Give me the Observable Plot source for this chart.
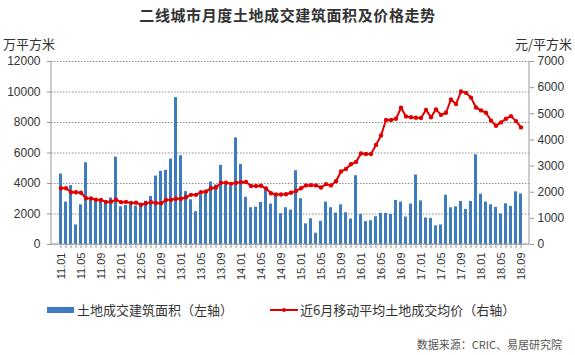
<!DOCTYPE html>
<html><head><meta charset="utf-8">
<script src="https://cdn.jsdelivr.net/npm/d3@7"></script>
<script src="https://cdn.jsdelivr.net/npm/@observablehq/plot@0.6"></script>
<style>
body{margin:0;background:#fff;}
#wrap{position:relative;width:575px;height:355px;background:#fff;font-family:"Noto Sans CJK SC","Noto Sans",sans-serif;color:#333;overflow:hidden;}
#chart{position:absolute;left:0;top:0;}
.abs{position:absolute;white-space:nowrap;line-height:1;}
#title{left:0;width:575px;top:7px;text-align:center;font-size:15px;font-weight:bold;letter-spacing:0.6px;color:#333;}
#ul{left:3px;top:37px;font-size:13px;}
#ur{right:3px;top:37px;font-size:13px;}
.leg{top:303px;font-size:13px;display:flex;align-items:center;}
#cap{right:13px;top:339px;font-size:11px;color:#555;}
</style></head>
<body>
<div id="wrap">
<div id="chart"></div>
<div id="title" class="abs">二线城市月度土地成交建筑面积及价格走势</div>
<div id="ul" class="abs">万平方米</div>
<div id="ur" class="abs">元/平方米</div>
<div class="abs leg" style="left:47px;"><span style="display:inline-block;width:27px;height:6px;background:#3D7DBF;margin-right:3px;"></span>土地成交建筑面积（左轴）</div>
<div class="abs leg" style="left:270px;"><svg width="28" height="10" style="margin-right:2px"><line x1="0" y1="5" x2="28" y2="5" stroke="#E00000" stroke-width="2"/><circle cx="14" cy="5" r="2" fill="#E00000"/></svg>近6月移动平均土地成交均价（右轴）</div>
<div id="cap" class="abs">数据来源：CRIC、易居研究院</div>
</div>
<script>
const months = [
"11.01","11.02","11.03","11.04","11.05","11.06","11.07","11.08","11.09","11.10","11.11","11.12",
"12.01","12.02","12.03","12.04","12.05","12.06","12.07","12.08","12.09","12.10","12.11","12.12",
"13.01","13.02","13.03","13.04","13.05","13.06","13.07","13.08","13.09","13.10","13.11","13.12",
"14.01","14.02","14.03","14.04","14.05","14.06","14.07","14.08","14.09","14.10","14.11","14.12",
"15.01","15.02","15.03","15.04","15.05","15.06","15.07","15.08","15.09","15.10","15.11","15.12",
"16.01","16.02","16.03","16.04","16.05","16.06","16.07","16.08","16.09","16.10","16.11","16.12",
"17.01","17.02","17.03","17.04","17.05","17.06","17.07","17.08","17.09","17.10","17.11","17.12",
"18.01","18.02","18.03","18.04","18.05","18.06","18.07","18.08","18.09"];
const area = [
4620,2780,3860,1280,2600,5360,3000,2900,2950,2800,3050,5730,
2470,2560,2560,2520,2520,2840,3150,4490,4800,4860,5600,9630,
5820,3470,2930,2150,3260,3360,4100,3900,5190,3900,3800,6990,
5250,3100,2410,2450,2760,3560,2650,3260,2020,2410,2260,4840,
3000,1350,1690,740,1520,2780,2410,2060,2600,2080,1670,4510,
1970,1500,1560,1820,2040,2040,1970,2890,2780,1800,2650,4560,
2860,1740,1710,1220,1280,3230,2410,2470,2820,2300,2820,5880,
3300,2780,2600,2430,2000,2670,2500,3450,3320];
const price = [
2150,2150,2000,2000,1980,1770,1760,1710,1700,1630,1640,1710,
1620,1630,1590,1600,1520,1580,1620,1590,1580,1700,1710,1750,
1750,1810,1900,1900,2000,2030,2150,2180,2360,2360,2320,2360,
2380,2390,2240,2240,2250,2140,1960,1910,1910,1920,1980,2050,
2150,2260,2270,2260,2180,2310,2260,2420,2790,2890,3070,3160,
3480,3460,3460,3810,4170,4760,4760,4810,5230,4900,4870,4850,
4840,5150,4870,5170,4960,5040,5550,5370,5850,5800,5620,5240,
5130,5040,4740,4540,4670,4810,4910,4720,4480];
const leftTicks = [0,2000,4000,6000,8000,10000,12000];
const rightTicks = [0,1000,2000,3000,4000,5000,6000,7000];
const k = 12000/7000;
const data = months.map((m,i)=>({m, area: area[i], price: price[i]}));

const chart = Plot.plot({
  width: 575, height: 300,
  marginTop: 61, marginBottom: 56, marginLeft: 51, marginRight: 46,
  x: {type: "band", domain: months, paddingInner: 0.5, paddingOuter: 0.1},
  y: {domain: [0, 12000]},
  style: {fontFamily: "'Liberation Sans', Arial, sans-serif", fontSize: "12px", color: "#333", background: "transparent"},
  marks: [
    Plot.gridY(leftTicks, {stroke: "#8c8c8c", strokeOpacity: 1, strokeDasharray: "1.5,1.5"}),
    Plot.barY(data, {x: "m", y: "area", fill: "#3D7DBF"}),
    Plot.line(data, {x: "m", y: d => d.price * k, stroke: "#E00000", strokeWidth: 2}),
    Plot.dot(data, {x: "m", y: d => d.price * k, fill: "#E00000", r: 2.2}),
    Plot.axisY({anchor: "left", ticks: leftTicks, tickFormat: d => String(d), tickSize: 4, tickPadding: 7, label: null, stroke: "#999"}),
    Plot.axisY({anchor: "right", ticks: rightTicks.map(v => v * k), tickFormat: v => String(Math.round(v / k)), tickSize: 4, tickPadding: 4, label: null, stroke: "#999"}),
    Plot.axisX({tickSize: 4, tickPadding: 4, tickRotate: -90, fontSize: 11, label: null, stroke: "#999",
      tickFormat: (d, i) => (months.indexOf(d) % 4 === 0 ? d : "")})
  ]
});
document.getElementById("chart").appendChild(chart);
// axis lines
const xr = chart.scale("x").range, yr = chart.scale("y").range;
const svg = d3.select(chart);
const g = svg.append("g").attr("stroke", "#999").attr("stroke-width", 1);
g.append("line").attr("x1", xr[0]).attr("x2", xr[0]).attr("y1", yr[0]).attr("y2", yr[1]);
g.append("line").attr("x1", xr[1]).attr("x2", xr[1]).attr("y1", yr[0]).attr("y2", yr[1]);
g.append("line").attr("x1", xr[0]).attr("x2", xr[1]).attr("y1", yr[0]).attr("y2", yr[0]);
</script>
</body></html>
